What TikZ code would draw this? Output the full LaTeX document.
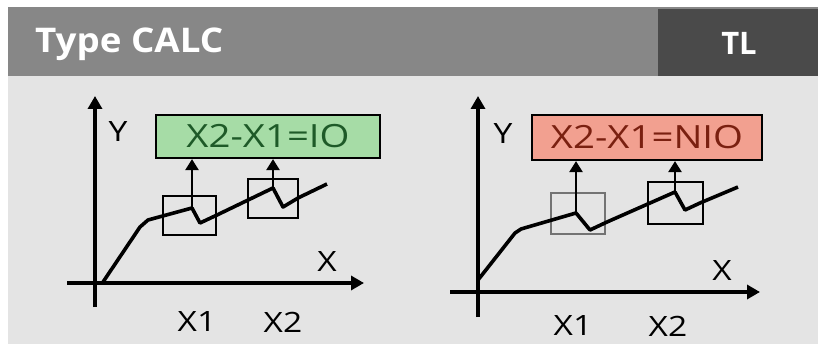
\documentclass[tikz,border=0pt]{standalone}
\usepackage{fontspec}
\setmainfont{Open Sans}
\newfontfamily\lblfont[FakeStretch=1.2]{Open Sans}
\newfontfamily\headfont[FakeStretch=1.08]{Open Sans}
\usetikzlibrary{arrows.meta}

\definecolor{headgrey}{HTML}{878787}
\definecolor{tagdark}{HTML}{4A4A4A}
\definecolor{panelbg}{HTML}{E4E4E4}
\definecolor{okfill}{HTML}{A6DCA6}
\definecolor{oktext}{HTML}{1E5A28}
\definecolor{nokfill}{HTML}{F2A090}
\definecolor{noktext}{HTML}{7A2010}

\tikzset{
  axis/.style={line width=3.6pt, -{Triangle[width=14pt,length=13pt]}},
  curve/.style={line width=3.6pt, line join=round},
  win/.style={draw, line width=2pt, inner sep=0pt},
  probe/.style={line width=2.4pt, -{Triangle[width=13pt,length=11pt]}},
  result/.style={draw, line width=2.2pt, inner sep=0pt, font=\lblfont\fontsize{32}{32}\selectfont},
  lbl/.style={font=\lblfont\fontsize{28}{28}\selectfont, inner sep=0pt}
}

\begin{document}
\begin{tikzpicture}[x=1pt, y=-1pt]
    \useasboundingbox (0,0) rectangle (818,344);
    % header and background
    \fill[white] (0,0) rectangle (818,344);
    \fill[panelbg] (8,76) rectangle (818,344);
    \fill[headgrey] (8,7) rectangle (818,76);
    \fill[tagdark] (658,9) rectangle (818,76);
    \node[anchor=base west, text=white, font=\headfont\bfseries\fontsize{34}{34}\selectfont, inner sep=0pt] (title) at (35,53) {Type CALC};
    \node[anchor=base, text=white, font=\bfseries\fontsize{31}{31}\selectfont, inner sep=0pt] (tag) at (739,55) {TL};

    % left panel: IO
    \coordinate (o1) at (95,307);
    \coordinate (yt1) at (95,96);
    \coordinate (xs1) at (67,283);
    \coordinate (xt1) at (364,283);
    \draw[axis] (o1) -- (yt1);
    \draw[axis] (xs1) -- (xt1);
    \node[lbl] (ylab1) at (118,132) {Y};
    \node[lbl] (xlab1) at (327,262) {X};
    \node[result, fill=okfill, text=oktext, minimum width=224pt, minimum height=43pt] (res1) at (268,136.5) {X2-X1=IO};
    \node[win, minimum width=53pt, minimum height=39pt] (w11) at (189.5,215.5) {};
    \node[win, minimum width=50pt, minimum height=39pt] (w12) at (273,198.5) {};
    \coordinate (p11) at (192,208);
    \coordinate (p12) at (273,188);
    \draw[curve] (103,282) -- (140,227) -- (148,220) -- (p11) -- (200,223) -- (217,215) -- (p12) -- (283,207) -- (298,198) -- (327,184);
    \draw[probe] (p11) -- (p11 |- res1.south);
    \draw[probe] (p12) -- (p12 |- res1.south);
    \node[lbl] (x11) at (197,322) {X1};
    \node[lbl] (x12) at (283,322) {X2};

    % right panel: NIO
    \coordinate (o2) at (478,317);
    \coordinate (yt2) at (478,96);
    \coordinate (xs2) at (450,292);
    \coordinate (xt2) at (760,292);
    \draw[axis] (o2) -- (yt2);
    \draw[axis] (xs2) -- (xt2);
    \node[lbl] (ylab2) at (503,134) {Y};
    \node[lbl] (xlab2) at (722,271) {X};
    \node[result, fill=nokfill, text=noktext, minimum width=230pt, minimum height=45pt] (res2) at (647,137.5) {X2-X1=NIO};
    \node[win, draw=black!55, minimum width=54pt, minimum height=41pt] (w21) at (578,213.5) {};
    \node[win, minimum width=55pt, minimum height=42pt] (w22) at (675.5,203) {};
    \coordinate (p21) at (576,213);
    \coordinate (p22) at (675,192);
    \draw[curve] (478,280) -- (515,233) -- (521,229) -- (p21) -- (590,230) -- (607,222) -- (p22) -- (685,210) -- (700,203) -- (738,187);
    \draw[probe] (p21) -- (p21 |- res2.south);
    \draw[probe] (p22) -- (p22 |- res2.south);
    \node[lbl] (x21) at (573,326) {X1};
    \node[lbl] (x22) at (668,326) {X2};
\end{tikzpicture}
\end{document}
